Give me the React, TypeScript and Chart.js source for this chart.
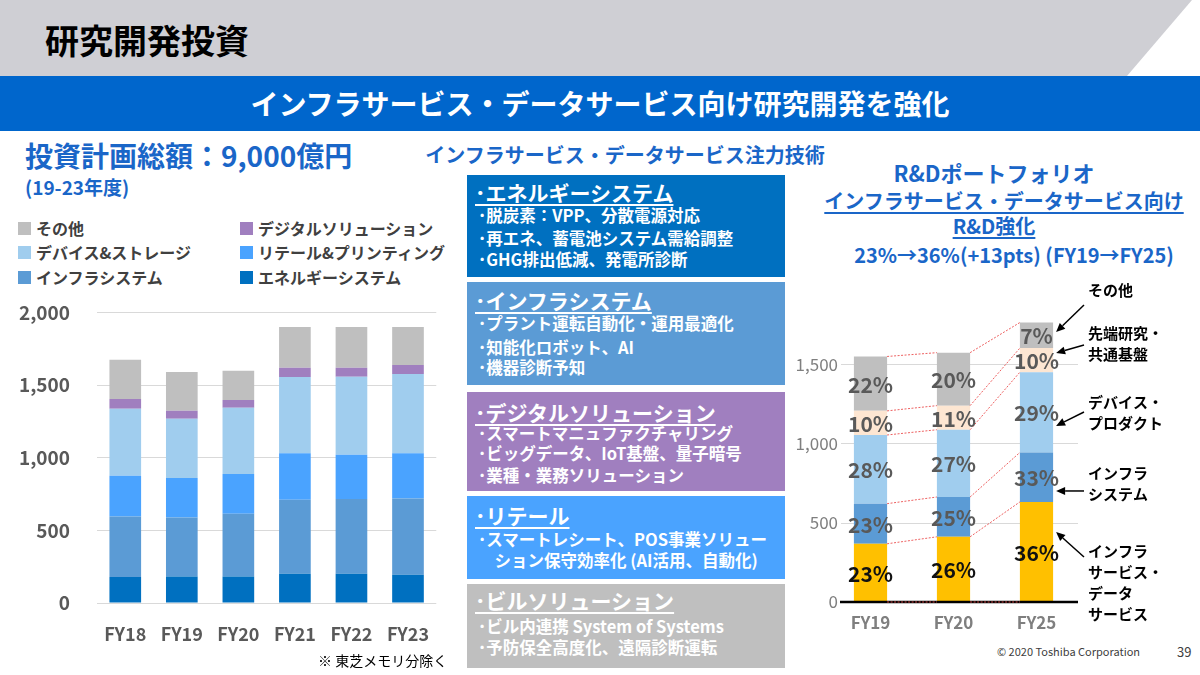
import React, { useEffect, useRef } from 'react';
import { Chart, registerables } from 'chart.js';

Chart.register(...registerables);

const FONT = '"Noto Sans CJK JP", "Noto Sans", sans-serif';
Chart.defaults.font.family = FONT;

// ---------- Left chart data (億円) ----------
const leftYears = ['FY18', 'FY19', 'FY20', 'FY21', 'FY22', 'FY23'];
const leftEnergy = [179, 183, 183, 202, 202, 195];
const leftInfra = [417, 406, 432, 509, 514, 525];
const leftRetail = [280, 271, 273, 319, 305, 310];
const leftDevice = [461, 408, 456, 525, 536, 546];
const leftDigital = [67, 55, 53, 64, 62, 62];
const leftOther = [270, 266, 202, 280, 280, 261];
const leftNames = ['エネルギーシステム', 'インフラシステム', 'リテール&プリンティング', 'デバイス&ストレージ', 'デジタルソリューション', 'その他'];
const leftColors = ['#0070c0', '#5b9bd5', '#4aa3ff', '#a0cdee', '#a07fbf', '#bfbfbf'];
const leftTicks = [0, 500, 1000, 1500, 2000];
// legend order (rows, two columns)
const legendOrder = [5, 4, 3, 2, 1, 0];

// ---------- Right chart data ----------
const rightYears = ['FY19', 'FY20', 'FY25'];
const rightInfraService = [367, 411, 631];
const rightInfraSystem = [253, 251, 312];
const rightDevice = [433, 424, 506];
const rightAdvanced = [152, 152, 152];
const rightOther = [343, 334, 161];
const rightColors = ['#ffc000', '#5b9bd5', '#a0cdee', '#fde6d2', '#bfbfbf'];
const rightShareInfraService = ['23%', '26%', '36%'];
const rightShareInfraSystem = ['23%', '25%', '33%'];
const rightShareDevice = ['28%', '27%', '29%'];
const rightShareAdvanced = ['10%', '11%', '10%'];
const rightShareOther = ['22%', '20%', '7%'];
const rightTicks = [0, 500, 1000, 1500];

// annotation labels on the right: text lines, text centre value, arrow tail value, arrow tip value
const annLines = [['その他'], ['先端研究・', '共通基盤'], ['デバイス・', 'プロダクト'], ['インフラ', 'システム'], ['インフラ', 'サービス・', 'データ', 'サービス']];
const annTextValue = [1967, 1696, 1261, 813, 322];
const annTailValue = [1873, 1620, 1198, 700, 284];
const annTipValue = [1702, 1570, 1110, 700, 441];

// ---------- Middle boxes ----------
const boxTitles = ['･エネルギーシステム', '･インフラシステム', '･デジタルソリューション', '･リテール', '･ビルソリューション'];
const boxItems = [
  ['･脱炭素：VPP、分散電源対応', '･再エネ、蓄電池システム需給調整', '･GHG排出低減、発電所診断'],
  ['･プラント運転自動化・運用最適化', '･知能化ロボット、AI', '･機器診断予知'],
  ['･スマートマニュファクチャリング', '･ビッグデータ、IoT基盤、量子暗号', '･業種・業務ソリューション'],
  ['･スマートレシート、POS事業ソリュー', '　ション保守効率化 (AI活用、自動化)'],
  ['･ビル内連携 System of Systems', '･予防保全高度化、遠隔診断運転'],
];
const boxColors = ['#0070c0', '#5b9bd5', '#a07fbf', '#4aa3ff', '#bfbfbf'];

const BLUE = '#1a66c8';

function LeftChart() {
  const ref = useRef<HTMLCanvasElement>(null);
  useEffect(() => {
    const series = [leftEnergy, leftInfra, leftRetail, leftDevice, leftDigital, leftOther];
    const chart = new Chart(ref.current as HTMLCanvasElement, {
      type: 'bar',
      data: {
        labels: leftYears,
        datasets: series.map((d, i) => ({
          label: leftNames[i],
          data: d,
          backgroundColor: leftColors[i],
          borderWidth: 0,
          categoryPercentage: 0.8,
          barPercentage: 0.7,
        })),
      },
      options: {
        responsive: false,
        animation: false,
        layout: { padding: { top: 22.7, right: 12, left: 0, bottom: 0 } },
        plugins: { legend: { display: false }, tooltip: { enabled: false } },
        scales: {
          x: {
            stacked: true,
            grid: { display: false, drawTicks: false },
            border: { display: false },
            ticks: { padding: 20, color: '#595959', font: { size: 18, weight: 'bold', family: FONT } },
            afterFit: (s: any) => { s.height = 50; },
          },
          y: {
            stacked: true,
            min: 0,
            max: 2000,
            afterBuildTicks: (s: any) => { s.ticks = leftTicks.map((v) => ({ value: v })); },
            grid: { color: '#d9d9d9', drawTicks: false, lineWidth: 1 },
            border: { display: false },
            ticks: {
              padding: 27,
              color: '#595959',
              font: { size: 19, weight: 'bold', family: FONT },
              callback: (v: any) => Number(v).toLocaleString('en-US'),
            },
            afterFit: (s: any) => { s.width = 97; },
          },
        },
      } as any,
    });
    return () => chart.destroy();
  }, []);
  return <canvas ref={ref} width={450} height={379} style={{ position: 'absolute', left: 0, top: 274, display: 'block' }} />;
}

function RightChart() {
  const ref = useRef<HTMLCanvasElement>(null);
  useEffect(() => {
    const series = [rightInfraService, rightInfraSystem, rightDevice, rightAdvanced, rightOther];
    const shares = [rightShareInfraService, rightShareInfraSystem, rightShareDevice, rightShareAdvanced, rightShareOther];

    const gridPlugin = {
      id: 'customGrid',
      beforeDatasetsDraw(chart: any) {
        const { ctx, chartArea, scales } = chart;
        ctx.save();
        ctx.strokeStyle = '#d9d9d9';
        ctx.lineWidth = 1;
        rightTicks.forEach((v) => {
          if (v === 0) return;
          const y = Math.round(scales.y.getPixelForValue(v)) + 0.5;
          ctx.beginPath();
          ctx.moveTo(chartArea.left + 12, y);
          ctx.lineTo(chartArea.right, y);
          ctx.stroke();
        });
        // tick labels (right aligned, overlapping the plot's left margin like the original)
        ctx.font = `17px ${FONT}`;
        ctx.fillStyle = '#7f7f7f';
        ctx.textAlign = 'right';
        ctx.textBaseline = 'middle';
        rightTicks.forEach((v) => {
          ctx.fillText(v.toLocaleString('en-US'), chartArea.left + 9, scales.y.getPixelForValue(v));
        });
        ctx.restore();
      },
      afterDatasetsDraw(chart: any) {
        const { ctx, chartArea, scales } = chart;
        const metas = chart.data.datasets.map((_: any, i: number) => chart.getDatasetMeta(i));
        // black baseline
        ctx.save();
        ctx.strokeStyle = '#000';
        ctx.lineWidth = 2.5;
        const y0 = scales.y.getPixelForValue(0);
        ctx.beginPath();
        ctx.moveTo(chartArea.left + 11, y0);
        ctx.lineTo(chartArea.right, y0);
        ctx.stroke();
        // connectors
        ctx.strokeStyle = 'rgba(235,80,80,0.9)';
        ctx.lineWidth = 1;
        ctx.setLineDash([2, 1.5]);
        const n = chart.data.labels.length;
        for (let j = 0; j < n - 1; j++) {
          const a0 = metas[0].data[j];
          const b0 = metas[0].data[j + 1];
          const pairs: number[][] = [[a0.base, b0.base]];
          metas.forEach((m: any) => pairs.push([m.data[j].y, m.data[j + 1].y]));
          pairs.forEach(([ya, yb]) => {
            ctx.beginPath();
            ctx.moveTo(a0.x + a0.width / 2, ya);
            ctx.lineTo(b0.x - b0.width / 2, yb);
            ctx.stroke();
          });
        }
        ctx.setLineDash([]);
        // percentage labels
        ctx.font = `bold 21px ${FONT}`;
        ctx.textAlign = 'center';
        ctx.textBaseline = 'middle';
        metas.forEach((m: any, i: number) => {
          m.data.forEach((bar: any, j: number) => {
            ctx.fillStyle = i === 0 ? '#111' : '#595959';
            ctx.fillText(shares[i][j], bar.x, (bar.y + bar.base) / 2 + 1);
          });
        });
        ctx.restore();
      },
      afterDraw(chart: any) {
        const { ctx, chartArea, scales } = chart;
        const lastMeta = chart.getDatasetMeta(0);
        const lastBar = lastMeta.data[lastMeta.data.length - 1];
        const barRight = lastBar.x + lastBar.width / 2;
        const textX = chartArea.right + 10;
        ctx.save();
        ctx.font = `bold 15px ${FONT}`;
        ctx.fillStyle = '#000';
        ctx.strokeStyle = '#000';
        ctx.textAlign = 'left';
        ctx.textBaseline = 'middle';
        annLines.forEach((lines, k) => {
          const yc = scales.y.getPixelForValue(annTextValue[k]);
          lines.forEach((t, li) => ctx.fillText(t, textX, yc + li * 21));
          const tx = chartArea.right + 6;
          const ty = scales.y.getPixelForValue(annTailValue[k]);
          const hx = barRight + 3;
          const hy = scales.y.getPixelForValue(annTipValue[k]);
          const ang = Math.atan2(hy - ty, hx - tx);
          const L = 9, W = 4;
          const bx = hx - L * Math.cos(ang), by = hy - L * Math.sin(ang);
          ctx.lineWidth = 1.5;
          ctx.beginPath();
          ctx.moveTo(tx, ty);
          ctx.lineTo(bx, by);
          ctx.stroke();
          ctx.beginPath();
          ctx.moveTo(hx, hy);
          ctx.lineTo(bx + W * Math.sin(ang), by - W * Math.cos(ang));
          ctx.lineTo(bx - W * Math.sin(ang), by + W * Math.cos(ang));
          ctx.closePath();
          ctx.fill();
        });
        ctx.restore();
      },
    };

    const chart = new Chart(ref.current as HTMLCanvasElement, {
      type: 'bar',
      data: {
        labels: rightYears,
        datasets: series.map((d, i) => ({
          data: d,
          backgroundColor: rightColors[i],
          borderWidth: 0,
          categoryPercentage: 0.8,
          barPercentage: 0.5,
        })),
      },
      options: {
        responsive: false,
        animation: false,
        layout: { padding: { top: 36.5, right: 122, left: 0, bottom: 0 } },
        plugins: { legend: { display: false }, tooltip: { enabled: false } },
        scales: {
          x: {
            stacked: true,
            grid: { display: false, drawTicks: false },
            border: { display: false },
            ticks: { padding: 10, color: '#7f7f7f', font: { size: 17, weight: 'bold', family: FONT } },
            afterFit: (s: any) => { s.height = 40; },
          },
          y: {
            stacked: true,
            min: 0,
            max: 1800,
            afterBuildTicks: (s: any) => { s.ticks = rightTicks.map((v) => ({ value: v })); },
            grid: { display: false, drawTicks: false },
            border: { display: false },
            ticks: { display: false },
            afterFit: (s: any) => { s.width = 39; },
          },
        },
      } as any,
      plugins: [gridPlugin],
    });
    return () => chart.destroy();
  }, []);
  return <canvas ref={ref} width={410} height={362} style={{ position: 'absolute', left: 790, top: 280, display: 'block' }} />;
}

function T(props: { x: number; y: number; size: number; color?: string; weight?: number; center?: boolean; underline?: boolean; children: React.ReactNode; lh?: number }) {
  const lh = props.lh ?? Math.round(props.size * 1.3);
  return (
    <div
      style={{
        position: 'absolute',
        left: props.x,
        top: props.y - lh / 2,
        fontSize: props.size,
        lineHeight: `${lh}px`,
        color: props.color ?? '#000',
        fontWeight: props.weight ?? 700,
        whiteSpace: 'nowrap',
        transform: props.center ? 'translateX(-50%)' : undefined,
        textDecoration: props.underline ? 'underline' : undefined,
        textUnderlineOffset: 3,
      }}
    >
      {props.children}
    </div>
  );
}

const boxTops = [175, 282, 392, 496, 584];
const boxBottoms = [277, 385, 491, 579, 668];
const boxTitleY = [192, 300, 412, 515, 600];
const boxItemY = [[215, 238, 259], [323, 347, 367], [433, 453, 475], [539, 560], [626, 647]];

export default function App() {
  useEffect(() => {
    document.body.style.margin = '0';
  }, []);
  return (
    <div style={{ position: 'absolute', left: 0, top: 0, width: 1200, height: 675, overflow: 'hidden', background: '#fff', fontFamily: FONT }}>
      {/* header */}
      <div style={{ position: 'absolute', left: 0, top: 0, width: 1200, height: 76, background: '#cfcfd4', clipPath: 'polygon(0 0, 1192px 0, 1127px 76px, 0 76px)' }} />
      <T x={45} y={40} size={34}>研究開発投資</T>
      <div style={{ position: 'absolute', left: 0, top: 76, width: 1200, height: 55, background: '#0066cc' }} />
      <T x={600} y={103} size={28} color="#fff" center>インフラサービス・データサービス向け研究開発を強化</T>

      {/* left titles */}
      <T x={25} y={155} size={28} color={BLUE}>投資計画総額：9,000億円</T>
      <T x={25} y={186} size={19} color={BLUE}>(19-23年度)</T>

      {/* legend */}
      {legendOrder.map((si, k) => {
        const col = k % 2;
        const row = Math.floor(k / 2);
        const x = col === 0 ? 18 : 240;
        const y = [228, 252, 277][row];
        return (
          <React.Fragment key={si}>
            <div style={{ position: 'absolute', left: x, top: y - 6, width: 13, height: 13, background: leftColors[si] }} />
            <T x={x + 18} y={y} size={16} color="#404040">{leftNames[si]}</T>
          </React.Fragment>
        );
      })}

      <LeftChart />
      <T x={318} y={660} size={14} weight={400}>※ 東芝メモリ分除く</T>

      {/* middle */}
      <T x={625} y={155} size={20} color={BLUE} center>インフラサービス・データサービス注力技術</T>
      {boxTitles.map((t, i) => (
        <React.Fragment key={i}>
          <div style={{ position: 'absolute', left: 467, top: boxTops[i], width: 318, height: boxBottoms[i] - boxTops[i], background: boxColors[i] }} />
          <T x={475} y={boxTitleY[i]} size={21} color="#fff" underline>{t}</T>
          {boxItems[i].map((it, k) => (
            <T key={k} x={478} y={boxItemY[i][k]} size={16.5} color="#fff">{it}</T>
          ))}
        </React.Fragment>
      ))}

      {/* right titles */}
      <T x={994} y={172} size={22} color={BLUE} center>R&amp;Dポートフォリオ</T>
      <T x={1004} y={201} size={20} color={BLUE} center underline>インフラサービス・データサービス向け</T>
      <T x={994} y={226} size={20} color={BLUE} center underline>R&amp;D強化</T>
      <T x={1014} y={255} size={20} color={BLUE} center>23%→36%(+13pts) (FY19→FY25)</T>

      <RightChart />

      {/* footer */}
      <T x={997} y={651} size={11} color="#404040" weight={400}>© 2020 Toshiba Corporation</T>
      <T x={1177} y={651} size={13} color="#404040" weight={400}>39</T>
    </div>
  );
}
